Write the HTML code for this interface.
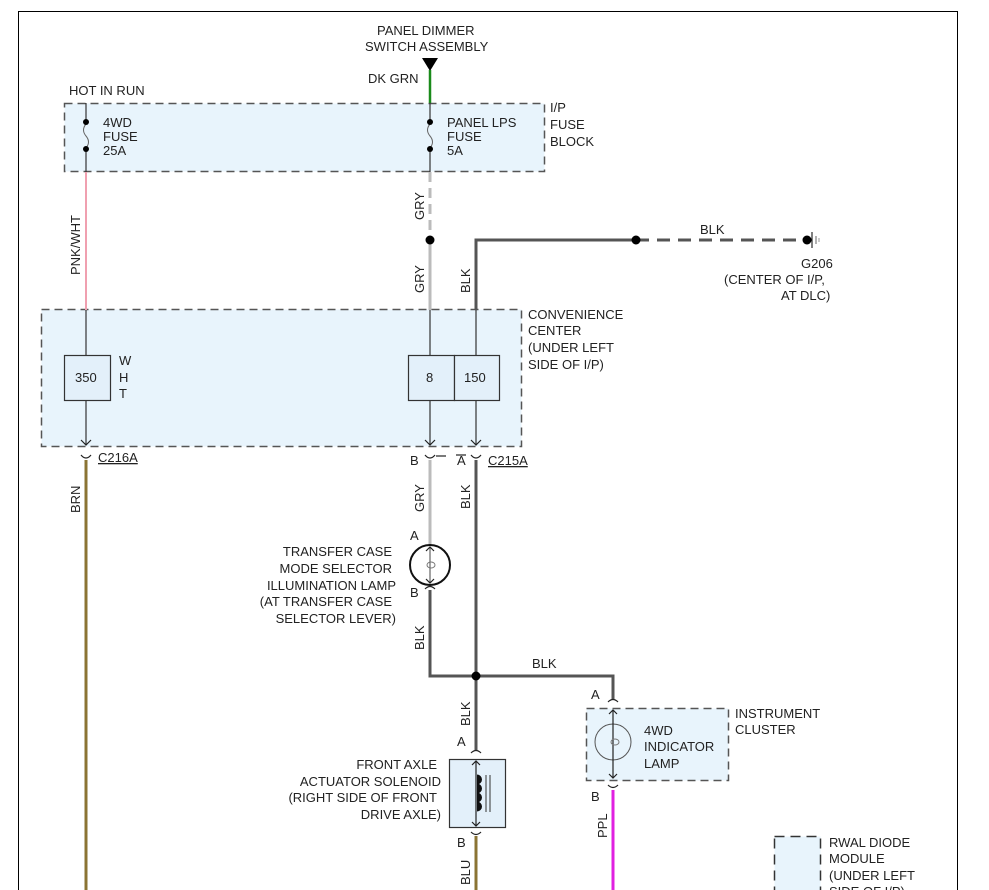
<!DOCTYPE html>
<html><head><meta charset="utf-8"><style>
html,body{margin:0;padding:0;background:#fff;}
svg{display:block;font-family:"Liberation Sans",Arial,sans-serif;font-size:13px;}
</style></head><body>
<svg width="989" height="890" viewBox="0 0 989 890" xmlns="http://www.w3.org/2000/svg">
<path d="M18.5 890 V11.5 H957.5 V890" fill="none" stroke="#000" stroke-width="1"/>

<rect x="64.5" y="103.5" width="480" height="68" fill="#e8f4fc" stroke="#555" stroke-width="1.5" stroke-dasharray="8,5"/>
<rect x="41.5" y="309.5" width="480" height="137" fill="#e8f4fc" stroke="#555" stroke-width="1.5" stroke-dasharray="8,5"/>
<rect x="586.5" y="708.5" width="142" height="72" fill="#e8f4fc" stroke="#555" stroke-width="1.5" stroke-dasharray="8,5"/>
<rect x="774.5" y="836.5" width="46" height="80" fill="#e8f4fc" stroke="#333" stroke-width="1.5" stroke-dasharray="10,6"/>

<g fill="#222">
<text x="377" y="35">PANEL DIMMER</text>
<text x="365" y="51">SWITCH ASSEMBLY</text>
<text x="368" y="83">DK GRN</text>
<text x="69" y="95">HOT IN RUN</text>
<text x="103" y="127">4WD</text>
<text x="103" y="141">FUSE</text>
<text x="103" y="155">25A</text>
<text x="447" y="127">PANEL LPS</text>
<text x="447" y="141">FUSE</text>
<text x="447" y="155">5A</text>
<text x="550" y="112">I/P</text>
<text x="550" y="129">FUSE</text>
<text x="550" y="146">BLOCK</text>
<text x="700" y="234">BLK</text>
<text x="801" y="268">G206</text>
<text x="724" y="284">(CENTER OF I/P,</text>
<text x="781" y="300">AT DLC)</text>
<text x="528" y="319">CONVENIENCE</text>
<text x="528" y="335">CENTER</text>
<text x="528" y="352">(UNDER LEFT</text>
<text x="528" y="369">SIDE OF I/P)</text>
<text x="119" y="365">W</text>
<text x="119" y="382">H</text>
<text x="119" y="398">T</text>
<text x="98" y="462" text-decoration="underline">C216A</text>
<text x="488" y="465" text-decoration="underline">C215A</text>
<text x="410" y="465">B</text>
<text x="457" y="465">A</text>
<text x="410" y="540">A</text>
<text x="410" y="597">B</text>
<g text-anchor="end">
<text x="392" y="556">TRANSFER CASE</text>
<text x="392" y="573">MODE SELECTOR</text>
<text x="396" y="590">ILLUMINATION LAMP</text>
<text x="392" y="606">(AT TRANSFER CASE</text>
<text x="396" y="623">SELECTOR LEVER)</text>
<text x="437" y="769">FRONT AXLE</text>
<text x="441" y="786">ACTUATOR SOLENOID</text>
<text x="437" y="802">(RIGHT SIDE OF FRONT</text>
<text x="441" y="819">DRIVE AXLE)</text>
</g>
<text x="532" y="668">BLK</text>
<text x="457" y="746">A</text>
<text x="457" y="847">B</text>
<text x="591" y="699">A</text>
<text x="591" y="801">B</text>
<text x="644" y="735">4WD</text>
<text x="644" y="751">INDICATOR</text>
<text x="644" y="768">LAMP</text>
<text x="735" y="718">INSTRUMENT</text>
<text x="735" y="734">CLUSTER</text>
<text x="829" y="847">RWAL DIODE</text>
<text x="829" y="863">MODULE</text>
<text x="829" y="880">(UNDER LEFT</text>
<text x="829" y="896">SIDE OF I/P)</text>
</g>
<g fill="#222">
<text transform="translate(80,275) rotate(-90)">PNK/WHT</text>
<text transform="translate(424,220) rotate(-90)">GRY</text>
<text transform="translate(424,293) rotate(-90)">GRY</text>
<text transform="translate(470,293) rotate(-90)">BLK</text>
<text transform="translate(80,513) rotate(-90)">BRN</text>
<text transform="translate(424,512) rotate(-90)">GRY</text>
<text transform="translate(470,509) rotate(-90)">BLK</text>
<text transform="translate(424,650) rotate(-90)">BLK</text>
<text transform="translate(470,726) rotate(-90)">BLK</text>
<text transform="translate(470,885) rotate(-90)">BLU</text>
<text transform="translate(607,838) rotate(-90)">PPL</text>
</g>

<polygon points="422,58 438,58 430,71" fill="#000"/>
<line x1="430" y1="70" x2="430" y2="103" stroke="#1a8a1a" stroke-width="2.5"/>
<line x1="86" y1="103" x2="86" y2="122" stroke="#333" stroke-width="1.2"/>
<line x1="86" y1="149" x2="86" y2="172" stroke="#333" stroke-width="1.2"/>
<line x1="430" y1="103" x2="430" y2="122" stroke="#333" stroke-width="1.2"/>
<line x1="430" y1="149" x2="430" y2="172" stroke="#333" stroke-width="1.2"/>
<path d="M86 124 q-5 6 0 12 q5 6 0 12" fill="none" stroke="#666" stroke-width="1"/>
<path d="M430 124 q-5 6 0 12 q5 6 0 12" fill="none" stroke="#666" stroke-width="1"/>
<circle cx="86" cy="122" r="3" fill="#000"/><circle cx="86" cy="149" r="3" fill="#000"/>
<circle cx="430" cy="122" r="3" fill="#000"/><circle cx="430" cy="149" r="3" fill="#000"/>

<line x1="86" y1="172" x2="86" y2="310" stroke="#f0a0b0" stroke-width="2"/>
<line x1="430" y1="172" x2="430" y2="240" stroke="#bbb" stroke-width="3" stroke-dasharray="10,6"/>
<line x1="430" y1="240" x2="430" y2="310" stroke="#bbb" stroke-width="3"/>
<circle cx="430" cy="240" r="4.5" fill="#000"/>
<path d="M476 310 V240 H636" fill="none" stroke="#555" stroke-width="3"/>
<line x1="636" y1="240" x2="806" y2="240" stroke="#555" stroke-width="3" stroke-dasharray="13,8"/>
<circle cx="636" cy="240" r="4.5" fill="#000"/><circle cx="807" cy="240" r="4.5" fill="#000"/>
<line x1="812" y1="232" x2="812" y2="248" stroke="#000" stroke-width="1"/>
<line x1="816" y1="236" x2="816" y2="244" stroke="#666" stroke-width="1"/>
<line x1="819" y1="238" x2="819" y2="242" stroke="#999" stroke-width="1"/>

<line x1="86" y1="310" x2="86" y2="355" stroke="#333" stroke-width="1.2"/>
<line x1="86" y1="400" x2="86" y2="445" stroke="#333" stroke-width="1.2"/>
<line x1="430" y1="310" x2="430" y2="355" stroke="#333" stroke-width="1.2"/>
<line x1="430" y1="400" x2="430" y2="445" stroke="#333" stroke-width="1.2"/>
<line x1="476" y1="310" x2="476" y2="355" stroke="#333" stroke-width="1.2"/>
<line x1="476" y1="400" x2="476" y2="445" stroke="#333" stroke-width="1.2"/>
<rect x="64.5" y="355.5" width="46" height="45" fill="#e3f0fa" stroke="#333" stroke-width="1.2"/>
<rect x="408.5" y="355.5" width="46" height="45" fill="#e3f0fa" stroke="#333" stroke-width="1.2"/>
<rect x="454.5" y="355.5" width="45" height="45" fill="#e3f0fa" stroke="#333" stroke-width="1.2"/>
<g fill="#222">
<text x="75" y="382">350</text>
<text x="426" y="382">8</text>
<text x="464" y="382">150</text>
</g>
<g fill="none" stroke="#222" stroke-width="1.2">
<path d="M81 440 l5 5 l5 -5"/><path d="M425 440 l5 5 l5 -5"/><path d="M471 440 l5 5 l5 -5"/>
<path d="M81 455 q5 6 10 0"/><path d="M425 455 q5 6 10 0"/><path d="M471 455 q5 6 10 0"/>
<path d="M436 456 h10"/><path d="M456 455 h10"/>
</g>

<line x1="86" y1="460" x2="86" y2="890" stroke="#8b7434" stroke-width="3"/>
<line x1="430" y1="460" x2="430" y2="545" stroke="#bbb" stroke-width="3"/>
<line x1="476" y1="460" x2="476" y2="750" stroke="#555" stroke-width="3"/>
<path d="M425 548 q5 -5 10 0" fill="none" stroke="#222" stroke-width="1.2"/>
<circle cx="430" cy="565" r="20" fill="#fff" stroke="#111" stroke-width="2"/>
<line x1="430" y1="547" x2="430" y2="583" stroke="#444" stroke-width="1"/>
<path d="M426 551 l4 -4 l4 4 M426 579 l4 4 l4 -4" fill="none" stroke="#222" stroke-width="1.2"/>
<ellipse cx="431" cy="565" rx="4" ry="3" fill="none" stroke="#777"/>
<path d="M425 589 q5 -5 10 0" fill="none" stroke="#222" stroke-width="1.2"/>
<path d="M430 590 V676 H613 V700" fill="none" stroke="#555" stroke-width="3"/>
<circle cx="476" cy="676" r="4.5" fill="#000"/>
<path d="M608 702 q5 -5 10 0" fill="none" stroke="#222" stroke-width="1.2"/>
<circle cx="613" cy="742" r="18" fill="none" stroke="#555" stroke-width="1"/>
<line x1="613" y1="710" x2="613" y2="778" stroke="#222" stroke-width="1.2"/>
<path d="M609 714 l4 -4 l4 4 M609 774 l4 4 l4 -4" fill="none" stroke="#222" stroke-width="1.2"/>
<ellipse cx="615" cy="742" rx="4" ry="3" fill="none" stroke="#777"/>
<path d="M608 785 q5 5 10 0" fill="none" stroke="#222" stroke-width="1.2"/>
<line x1="613" y1="790" x2="613" y2="890" stroke="#e020e0" stroke-width="3"/>
<path d="M471 753 q5 -5 10 0" fill="none" stroke="#222" stroke-width="1.2"/>
<rect x="449.5" y="759.5" width="56" height="68" fill="#e3f0fa" stroke="#333" stroke-width="1.2"/>
<line x1="476" y1="761" x2="476" y2="826" stroke="#222" stroke-width="1.2"/>
<path d="M472 765 l4 -4 l4 4 M472 822 l4 4 l4 -4" fill="none" stroke="#222" stroke-width="1.2"/>
<path d="M477 775 a4 4 0 0 1 0 9 a4 4 0 0 1 0 9 a4 4 0 0 1 0 9 a4 4 0 0 1 0 9" fill="#111" stroke="#111"/>
<line x1="486" y1="775" x2="486" y2="812" stroke="#333"/><line x1="490" y1="775" x2="490" y2="812" stroke="#333"/>
<path d="M471 832 q5 5 10 0" fill="none" stroke="#222" stroke-width="1.2"/>
<line x1="476" y1="836" x2="476" y2="890" stroke="#8b7434" stroke-width="3"/>
</svg>
</body></html>
